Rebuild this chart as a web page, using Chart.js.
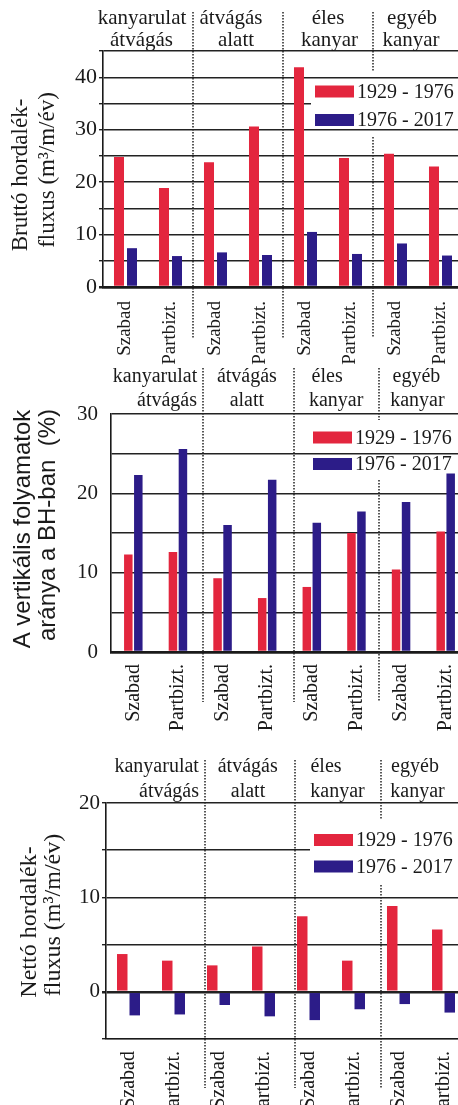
<!DOCTYPE html>
<html>
<head>
<meta charset="utf-8">
<script src="https://cdn.jsdelivr.net/npm/chart.js@4.4.1/dist/chart.umd.min.js"></script>
<style>
html, body { margin: 0; padding: 0; background: #fff; }
body { width: 458px; height: 1105px; overflow: hidden; position: relative; }
.panel { position: absolute; left: 0; }
</style>
</head>
<body>
<div class="panel" style="top:0px"><canvas id="bruttoChart" width="471" height="372"></canvas></div>
<div class="panel" style="top:362px"><canvas id="vertChart" width="476" height="370"></canvas></div>
<div class="panel" style="top:732px"><canvas id="nettoChart" width="474" height="373"></canvas></div>
<script>
// categories and group headers
const categories = ['Szabad', 'Partbizt.', 'Szabad', 'Partbizt.', 'Szabad', 'Partbizt.', 'Szabad', 'Partbizt.'];
const groupNames = [['kanyarulat', 'átvágás'], ['átvágás', 'alatt'], ['éles', 'kanyar'], ['egyéb', 'kanyar']];
const seriesNames = ['1929 - 1976', '1976 - 2017'];

// Bruttó hordalékfluxus (m3/m/év)
const bruttoEarly = [24.8, 18.9, 23.8, 30.6, 41.9, 24.6, 25.4, 23.0];
const bruttoLate = [7.4, 5.9, 6.6, 6.1, 10.5, 6.3, 8.3, 6.0];
const bruttoTicks = [0, 10, 20, 30, 40];

// vertikális folyamatok aránya (%)
const vertEarly = [12.3, 12.6, 9.3, 6.8, 8.2, 15.0, 10.4, 15.2];
const vertLate = [22.3, 25.6, 16.0, 21.7, 16.3, 17.7, 18.9, 22.5];
const vertTicks = [0, 10, 20, 30];

// Nettó hordalékfluxus (m3/m/év)
const nettoEarly = [4.0, 3.3, 2.8, 4.8, 8.0, 3.3, 9.1, 6.6];
const nettoLate = [-2.5, -2.4, -1.4, -2.6, -3.0, -1.85, -1.3, -2.2];
const nettoTicks = [0, 10, 20];

const RED = '#e3263e';
const BLUE = '#2c1c88';
const INK = '#1a1a1a';
const SERIF = '"Liberation Serif"';
const SANS = '"Liberation Sans"';

// separators, legend, group headers and the y title
const decor = {
    id: 'decor',
    afterDraw(chart, args, o) {
        const ctx = chart.ctx;
        const x = chart.scales.x;
        ctx.save();

        // dotted group separators
        ctx.strokeStyle = '#222';
        ctx.lineWidth = 1.5;
        ctx.setLineDash([1.5, 1.5]);
        o.sepShift.forEach((dx, i) => {
            const px = Math.round((x.getPixelForValue(2 * i + 1) + x.getPixelForValue(2 * i + 2)) / 2 + dx);
            const segs = i === 2 ? [[o.sepTop, o.gap[0]], [o.gap[1], o.sepBottom]] : [[o.sepTop, o.sepBottom]];
            segs.forEach(([a, b]) => {
                ctx.beginPath();
                ctx.moveTo(px, a);
                ctx.lineTo(px, b);
                ctx.stroke();
            });
        });
        ctx.setLineDash([]);

        // legend
        const lg = o.legend;
        if (lg.box) {
            ctx.fillStyle = '#fff';
            ctx.fillRect(lg.box[0], lg.box[1], lg.box[2], lg.box[3]);
        }
        ctx.font = '20px ' + SERIF;
        ctx.textBaseline = 'middle';
        ctx.textAlign = 'left';
        chart.data.datasets.forEach((ds, i) => {
            const y = lg.y + i * lg.dy;
            ctx.fillStyle = ds.backgroundColor;
            ctx.fillRect(lg.x, y - 6, 39, 12);
            ctx.fillStyle = INK;
            ctx.fillText(ds.label, lg.x + 42, y + 1);
        });

        // group headers
        ctx.font = o.groupFont;
        ctx.textAlign = 'center';
        groupNames.forEach((lines, g) => {
            const cx = (x.getPixelForValue(2 * g) + x.getPixelForValue(2 * g + 1)) / 2;
            lines.forEach((t, k) => ctx.fillText(t, cx + o.groupShift[g][k], o.groupY[k]));
        });

        // y axis title, two rotated lines
        ctx.font = o.titleFont;
        ctx.textBaseline = 'alphabetic';
        o.title.forEach((t, k) => {
            ctx.save();
            ctx.translate(o.titleX[k], o.titleY[k]);
            ctx.rotate(-Math.PI / 2);
            ctx.fillText(t, 0, 0);
            ctx.restore();
        });
        ctx.restore();
    }
};

function buildPanel(id, early, late, tickList, p) {
    const ctx = document.getElementById(id).getContext('2d');
    return new Chart(ctx, {
        type: 'bar',
        data: {
            labels: categories,
            datasets: [
                { label: seriesNames[0], data: early, backgroundColor: RED },
                { label: seriesNames[1], data: late, backgroundColor: BLUE }
            ]
        },
        options: {
            responsive: false,
            animation: false,
            events: [],
            layout: { padding: { top: p.top, left: 0, right: 8, bottom: 0 } },
            datasets: { bar: { categoryPercentage: p.cp, barPercentage: p.bp } },
            plugins: {
                legend: { display: false },
                tooltip: { enabled: false },
                decor: p.decor
            },
            scales: {
                x: {
                    grid: { display: false },
                    border: { display: true, color: INK, width: p.bottomW },
                    ticks: {
                        autoSkip: false, minRotation: 90, maxRotation: 90,
                        padding: p.xPad, color: INK,
                        font: { family: SERIF, size: p.xFont }
                    },
                    afterFit: s => { s.height = p.xh; }
                },
                y: {
                    min: p.min, max: p.max,
                    grid: {
                        color: '#222',
                        lineWidth: c => (c.tick && c.tick.value === 0 ? 2.5 : 1.4),
                        drawTicks: p.tickLen > 0, tickLength: p.tickLen
                    },
                    border: { display: true, color: INK, width: 1.6 },
                    ticks: {
                        stepSize: 5, autoSkip: false, padding: p.yPad, color: INK,
                        font: { family: SERIF, size: p.yFont },
                        callback: v => (tickList.includes(v) ? v : '')
                    },
                    afterFit: s => { s.width = p.yw; }
                }
            }
        },
        plugins: [decor]
    });
}

buildPanel('bruttoChart', bruttoEarly, bruttoLate, bruttoTicks, {
    top: 51, xh: 85, yw: 103, min: 0, max: 45,
    cp: 0.578, bp: 0.77, xPad: 6, xFont: 19, yFont: 22, tickLen: 4, yPad: 2, bottomW: 2.5,
    decor: {
        sepShift: [0, 0, 0], sepTop: 12, sepBottom: 338, gap: [72, 137],
        legend: { x: 315, y: 91.5, dy: 28.5, box: [311, 80, 160, 47] },
        groupFont: '21px ' + SERIF, groupY: [18, 40],
        groupShift: [[-6, -6.5], [-7, -2], [0, 1.5], [-6, -7]],
        titleFont: '23px ' + SERIF,
        title: ['Bruttó hordalék-', 'fluxus (m³/m/év)'],
        titleX: [27, 54], titleY: [175, 170]
    }
});

buildPanel('vertChart', vertEarly, vertLate, vertTicks, {
    top: 52, xh: 80, yw: 111, min: 0, max: 30,
    cp: 0.448, bp: 0.85, xPad: 4, xFont: 20, yFont: 21, tickLen: 0, yPad: 13, bottomW: 2.5,
    decor: {
        sepShift: [3, 4, 0], sepTop: 6, sepBottom: 340, gap: [58, 118],
        legend: { x: 313, y: 75.5, dy: 26.5, box: null },
        groupFont: '20px ' + SERIF, groupY: [15, 39],
        groupShift: [[-0.6, 11.4], [2, 2], [-7, 2], [-7, -6]],
        titleFont: '24px ' + SANS,
        title: ['A vertikális folyamatok', 'aránya a BH-ban  (%)'],
        titleX: [30, 55], titleY: [167, 163]
    }
});

buildPanel('nettoChart', nettoEarly, nettoLate, nettoTicks, {
    top: 71, xh: 66, yw: 106, min: -5, max: 20,
    cp: 0.556, bp: 0.84, xPad: 4, xFont: 20, yFont: 21, tickLen: 4, yPad: 2, bottomW: 1.3,
    decor: {
        sepShift: [9, 9, 5], sepTop: 28, sepBottom: 356, gap: [88, 153],
        legend: { x: 314, y: 108, dy: 26.5, box: [310, 92, 170, 56] },
        groupFont: '20px ' + SERIF, groupY: [35, 60],
        groupShift: [[5.7, 18], [6.7, 7], [-5, 6.5], [-6, -3.5]],
        titleFont: '24px ' + SERIF,
        title: ['Nettó hordalék-', 'fluxus (m³/m/év)'],
        titleX: [36, 60], titleY: [190, 183]
    }
});
</script>
</body>
</html>
